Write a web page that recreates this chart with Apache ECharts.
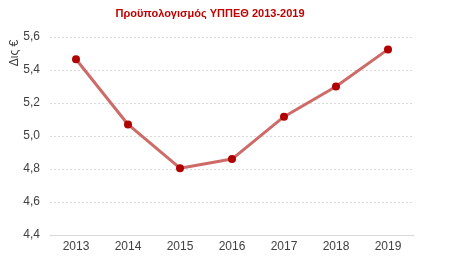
<!DOCTYPE html>
<html><head><meta charset="utf-8">
<script src="https://cdn.jsdelivr.net/npm/echarts@6/dist/echarts.min.js"></script>
<style>html,body{margin:0;padding:0;background:#fff}#c{width:468px;height:263px}</style>
</head><body><div id="c"></div>
<script>
const categories = ['2013','2014','2015','2016','2017','2018','2019'];
const values = [5.465, 5.07, 4.805, 4.86, 5.117, 5.30, 5.525];
const titleText = 'Προϋπολογισμός ΥΠΠΕΘ 2013-2019';
const yName = 'Δις €';
const narrow = '"Liberation Sans Narrow", "Arial Narrow", "Liberation Sans", sans-serif';
const chart = echarts.init(document.getElementById('c'), null, {renderer:'canvas'});
chart.setOption({
  animation:false,
  graphic:[
    {type:'text',x:210,y:14,
      style:{text:titleText,fontFamily:'"Liberation Sans", Arial, sans-serif',fontWeight:'bold',fontSize:11,fill:'#C00000',align:'center',verticalAlign:'middle'}},
    {type:'text',x:15,y:53,rotation:Math.PI/2,
      style:{text:yName,fontFamily:narrow,fontSize:12,fill:'#404040',align:'center',verticalAlign:'middle'}}],
  grid:{left:50,right:54,top:37,bottom:28},
  xAxis:{type:'category',data:categories,boundaryGap:true,
    axisLine:{lineStyle:{color:'#d9d9d9',width:1}},
    axisTick:{alignWithLabel:true,length:5,lineStyle:{color:'#d9d9d9'}},
    axisLabel:{fontFamily:narrow,fontSize:12,color:'#404040',margin:6}},
  yAxis:{type:'value',min:4.4,max:5.6,interval:0.2,
    axisLine:{show:false},axisTick:{show:false},
    splitLine:{lineStyle:{color:'#d9d9d9',type:[2,2],width:1}},
    axisLabel:{fontFamily:narrow,fontSize:12,color:'#404040',margin:10,
      formatter:v=>v.toFixed(1).replace('.',',')}},
  series:[{type:'line',data:values,symbol:'circle',symbolSize:8,
    lineStyle:{color:'#CD6B69',width:3},
    itemStyle:{color:'#B00000'}}]
});
</script></body></html>
